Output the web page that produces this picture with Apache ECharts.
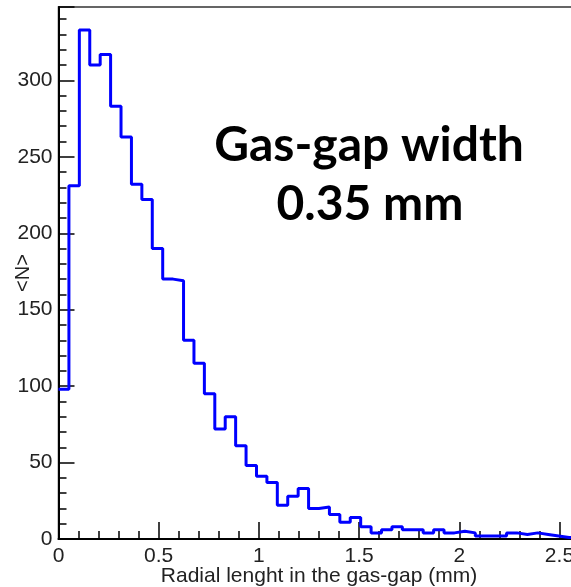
<!DOCTYPE html>
<html>
<head>
    <meta charset="utf-8">
    <title>Radial length histogram</title>
    <script src="https://cdn.jsdelivr.net/npm/echarts@6/dist/echarts.min.js"></script>
    <style>
        html, body { margin: 0; padding: 0; background: #fff; }
        #main { width: 571px; height: 587px; }
    </style>
</head>
<body>
<div id="main"></div>
<script>
    // histogram: 50 bins from 0 to 2.6 mm
    var binLow = 0;
    var binWidth = 0.052;
    var counts = [
        98, 231, 333, 310, 317, 283, 263, 232, 222, 190,
        170, 169, 130, 115, 95, 72, 80, 61, 48, 41,
        37, 22, 28, 33, 20, 21, 16, 11, 14, 8,
        4, 6, 8, 6, 6, 4, 6, 4, 5, 4,
        2, 2, 2, 4, 3, 4, 3, 2, 1, 1
    ];
    var xTitle = 'Radial lenght in the gas-gap (mm)';
    var yTitle = '<N>';
    var note = ['Gas-gap width', '0.35 mm'];

    // step line points at the bin edges
    var points = [];
    for (var i = 0; i < counts.length; i++) {
        points.push([binLow + i * binWidth, counts[i]]);
    }
    points.push([binLow + counts.length * binWidth, counts[counts.length - 1]]);

    var labelFont = 'Liberation Sans';

    var myChart = echarts.init(document.getElementById('main'));
    var option = {
        animation: false,
        grid: {
            left: 58.5,
            right: -8.5,
            top: 7,
            bottom: 48,
            outerBoundsMode: 'none',
            containLabel: false,
            show: true,
            borderColor: '#333',
            borderWidth: 1.5
        },
        xAxis: {
            type: 'value',
            min: 0,
            max: 2.6,
            interval: 0.5,
            name: xTitle,
            nameLocation: 'middle',
            nameGap: 27,
            nameMoveOverlap: false,
            nameTextStyle: { fontFamily: labelFont, fontSize: 21, color: '#222' },
            axisLine: { lineStyle: { color: '#000', width: 2 } },
            axisTick: { inside: true, length: 17, lineStyle: { color: '#000', width: 1.5 } },
            minorTick: { show: true, splitNumber: 5, length: 8, lineStyle: { color: '#000', width: 1.5 } },
            splitLine: { show: false },
            axisLabel: {
                fontFamily: labelFont, fontSize: 21, color: '#222', margin: 7,
                showMaxLabel: false
            }
        },
        yAxis: {
            type: 'value',
            min: 0,
            max: 348,
            interval: 50,
            name: yTitle,
            nameLocation: 'middle',
            nameGap: 25,
            nameMoveOverlap: false,
            nameTextStyle: { fontFamily: labelFont, fontSize: 20, color: '#222' },
            axisLine: { lineStyle: { color: '#000', width: 2 } },
            axisTick: { inside: true, length: 16, lineStyle: { color: '#000', width: 1.5 } },
            minorTick: { show: true, splitNumber: 5, length: 8, lineStyle: { color: '#000', width: 1.5 } },
            splitLine: { show: false },
            axisLabel: {
                fontFamily: labelFont, fontSize: 21, color: '#222', margin: 6,
                showMaxLabel: false
            }
        },
        graphic: [{
            type: 'text',
            x: 369,
            y: 146,
            style: {
                text: note[0],
                font: 'bold 48px Lato',
                fill: '#000',
                align: 'center',
                verticalAlign: 'middle'
            }
        }, {
            type: 'text',
            x: 370,
            y: 205,
            style: {
                text: note[1],
                font: 'bold 48px Lato',
                fill: '#000',
                align: 'center',
                verticalAlign: 'middle'
            }
        }],
        series: [{
            type: 'line',
            step: 'end',
            showSymbol: false,
            lineStyle: { color: '#0000ff', width: 3 },
            data: points
        }]
    };
    myChart.setOption(option);
</script>
</body>
</html>
